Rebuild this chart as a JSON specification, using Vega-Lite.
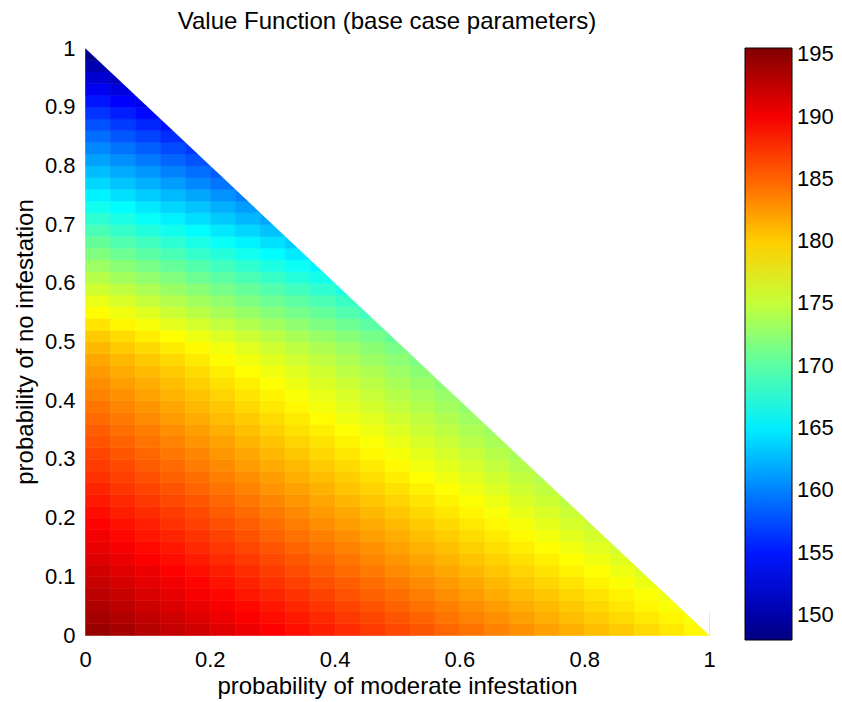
{
  "$schema": "https://vega.github.io/schema/vega-lite/v6.json",
  "width": 624,
  "height": 587,
  "autosize": {"type": "none"},
  "padding": {"left": 85, "top": 48, "right": 133, "bottom": 67},
  "background": "white",
  "config": {
    "font": "Liberation Sans",
    "view": {"stroke": null},
    "axis": {"labelFontSize": 22, "labelColor": "black", "titleFontSize": 24, "titleFontWeight": "normal", "titleColor": "black", "domain": false, "ticks": false, "grid": false, "labelFlush": false},
    "legend": {"labelFontSize": 22, "labelColor": "black"}
  },
  "title": {"text": "Value Function (base case parameters)", "fontSize": 24, "fontWeight": "normal", "color": "black", "frame": "group", "offset": 3, "dx": -10, "anchor": "middle"},
  "layer": [
    {
      "data": {"values": [
{"m":0.02,"n":0.01,"v":194.4},{"m":0.02,"n":0.03,"v":193.8},{"m":0.02,"n":0.05,"v":193.3},{"m":0.02,"n":0.07,"v":192.8},{"m":0.02,"n":0.09,"v":192.2},{"m":0.02,"n":0.11,"v":191.7},{"m":0.02,"n":0.13,"v":191.1},{"m":0.02,"n":0.15,"v":190.6},{"m":0.02,"n":0.17,"v":190.1},{"m":0.02,"n":0.19,"v":189.5},{"m":0.02,"n":0.21,"v":189.0},{"m":0.02,"n":0.23,"v":188.4},{"m":0.02,"n":0.25,"v":187.9},{"m":0.02,"n":0.27,"v":187.3},{"m":0.02,"n":0.29,"v":186.8},{"m":0.02,"n":0.31,"v":186.3},{"m":0.02,"n":0.33,"v":185.7},{"m":0.02,"n":0.35,"v":185.2},{"m":0.02,"n":0.37,"v":184.6},{"m":0.02,"n":0.39,"v":184.1},{"m":0.02,"n":0.41,"v":183.5},{"m":0.02,"n":0.43,"v":183.0},{"m":0.02,"n":0.45,"v":182.4},{"m":0.02,"n":0.47,"v":181.8},{"m":0.02,"n":0.49,"v":181.0},{"m":0.02,"n":0.51,"v":180.1},{"m":0.02,"n":0.53,"v":178.9},{"m":0.02,"n":0.55,"v":177.8},{"m":0.02,"n":0.57,"v":176.7},{"m":0.02,"n":0.59,"v":175.5},{"m":0.02,"n":0.61,"v":174.3},{"m":0.02,"n":0.63,"v":173.1},{"m":0.02,"n":0.65,"v":171.8},{"m":0.02,"n":0.67,"v":170.5},{"m":0.02,"n":0.69,"v":169.2},{"m":0.02,"n":0.71,"v":167.9},{"m":0.02,"n":0.73,"v":166.6},{"m":0.02,"n":0.75,"v":165.3},{"m":0.02,"n":0.77,"v":164.0},{"m":0.02,"n":0.79,"v":162.8},{"m":0.02,"n":0.81,"v":161.5},{"m":0.02,"n":0.83,"v":160.3},{"m":0.02,"n":0.85,"v":159.0},{"m":0.02,"n":0.87,"v":157.7},{"m":0.02,"n":0.89,"v":156.3},{"m":0.02,"n":0.91,"v":154.9},{"m":0.02,"n":0.93,"v":153.4},{"m":0.02,"n":0.95,"v":151.9},{"m":0.02,"n":0.97,"v":150.3},{"m":0.02,"n":0.99,"v":148.6},
{"m":0.06,"n":0.01,"v":193.7},{"m":0.06,"n":0.03,"v":193.2},{"m":0.06,"n":0.05,"v":192.6},{"m":0.06,"n":0.07,"v":192.1},{"m":0.06,"n":0.09,"v":191.5},{"m":0.06,"n":0.11,"v":191.0},{"m":0.06,"n":0.13,"v":190.4},{"m":0.06,"n":0.15,"v":189.9},{"m":0.06,"n":0.17,"v":189.3},{"m":0.06,"n":0.19,"v":188.8},{"m":0.06,"n":0.21,"v":188.2},{"m":0.06,"n":0.23,"v":187.7},{"m":0.06,"n":0.25,"v":187.1},{"m":0.06,"n":0.27,"v":186.6},{"m":0.06,"n":0.29,"v":186.1},{"m":0.06,"n":0.31,"v":185.5},{"m":0.06,"n":0.33,"v":185.0},{"m":0.06,"n":0.35,"v":184.4},{"m":0.06,"n":0.37,"v":183.9},{"m":0.06,"n":0.39,"v":183.3},{"m":0.06,"n":0.41,"v":182.8},{"m":0.06,"n":0.43,"v":182.2},{"m":0.06,"n":0.45,"v":181.6},{"m":0.06,"n":0.47,"v":181.0},{"m":0.06,"n":0.49,"v":180.2},{"m":0.06,"n":0.51,"v":179.3},{"m":0.06,"n":0.53,"v":178.1},{"m":0.06,"n":0.55,"v":177.0},{"m":0.06,"n":0.57,"v":175.9},{"m":0.06,"n":0.59,"v":174.7},{"m":0.06,"n":0.61,"v":173.4},{"m":0.06,"n":0.63,"v":172.2},{"m":0.06,"n":0.65,"v":170.9},{"m":0.06,"n":0.67,"v":169.6},{"m":0.06,"n":0.69,"v":168.3},{"m":0.06,"n":0.71,"v":167.0},{"m":0.06,"n":0.73,"v":165.7},{"m":0.06,"n":0.75,"v":164.4},{"m":0.06,"n":0.77,"v":163.1},{"m":0.06,"n":0.79,"v":161.9},{"m":0.06,"n":0.81,"v":160.6},{"m":0.06,"n":0.83,"v":159.3},{"m":0.06,"n":0.85,"v":158.0},{"m":0.06,"n":0.87,"v":156.7},{"m":0.06,"n":0.89,"v":155.3},{"m":0.06,"n":0.91,"v":153.9},{"m":0.06,"n":0.93,"v":152.4},{"m":0.06,"n":0.95,"v":150.9},
{"m":0.10,"n":0.01,"v":193.0},{"m":0.10,"n":0.03,"v":192.5},{"m":0.10,"n":0.05,"v":191.9},{"m":0.10,"n":0.07,"v":191.4},{"m":0.10,"n":0.09,"v":190.8},{"m":0.10,"n":0.11,"v":190.3},{"m":0.10,"n":0.13,"v":189.7},{"m":0.10,"n":0.15,"v":189.2},{"m":0.10,"n":0.17,"v":188.6},{"m":0.10,"n":0.19,"v":188.1},{"m":0.10,"n":0.21,"v":187.5},{"m":0.10,"n":0.23,"v":187.0},{"m":0.10,"n":0.25,"v":186.4},{"m":0.10,"n":0.27,"v":185.9},{"m":0.10,"n":0.29,"v":185.3},{"m":0.10,"n":0.31,"v":184.8},{"m":0.10,"n":0.33,"v":184.2},{"m":0.10,"n":0.35,"v":183.7},{"m":0.10,"n":0.37,"v":183.1},{"m":0.10,"n":0.39,"v":182.6},{"m":0.10,"n":0.41,"v":182.0},{"m":0.10,"n":0.43,"v":181.5},{"m":0.10,"n":0.45,"v":180.9},{"m":0.10,"n":0.47,"v":180.2},{"m":0.10,"n":0.49,"v":179.4},{"m":0.10,"n":0.51,"v":178.5},{"m":0.10,"n":0.53,"v":177.3},{"m":0.10,"n":0.55,"v":176.2},{"m":0.10,"n":0.57,"v":175.0},{"m":0.10,"n":0.59,"v":173.8},{"m":0.10,"n":0.61,"v":172.6},{"m":0.10,"n":0.63,"v":171.4},{"m":0.10,"n":0.65,"v":170.0},{"m":0.10,"n":0.67,"v":168.8},{"m":0.10,"n":0.69,"v":167.4},{"m":0.10,"n":0.71,"v":166.1},{"m":0.10,"n":0.73,"v":164.8},{"m":0.10,"n":0.75,"v":163.5},{"m":0.10,"n":0.77,"v":162.2},{"m":0.10,"n":0.79,"v":161.0},{"m":0.10,"n":0.81,"v":159.6},{"m":0.10,"n":0.83,"v":158.4},{"m":0.10,"n":0.85,"v":157.0},{"m":0.10,"n":0.87,"v":155.7},{"m":0.10,"n":0.89,"v":154.3},{"m":0.10,"n":0.91,"v":152.9},
{"m":0.14,"n":0.01,"v":192.3},{"m":0.14,"n":0.03,"v":191.8},{"m":0.14,"n":0.05,"v":191.2},{"m":0.14,"n":0.07,"v":190.7},{"m":0.14,"n":0.09,"v":190.1},{"m":0.14,"n":0.11,"v":189.6},{"m":0.14,"n":0.13,"v":189.0},{"m":0.14,"n":0.15,"v":188.5},{"m":0.14,"n":0.17,"v":187.9},{"m":0.14,"n":0.19,"v":187.3},{"m":0.14,"n":0.21,"v":186.8},{"m":0.14,"n":0.23,"v":186.2},{"m":0.14,"n":0.25,"v":185.7},{"m":0.14,"n":0.27,"v":185.1},{"m":0.14,"n":0.29,"v":184.6},{"m":0.14,"n":0.31,"v":184.0},{"m":0.14,"n":0.33,"v":183.5},{"m":0.14,"n":0.35,"v":182.9},{"m":0.14,"n":0.37,"v":182.3},{"m":0.14,"n":0.39,"v":181.8},{"m":0.14,"n":0.41,"v":181.2},{"m":0.14,"n":0.43,"v":180.7},{"m":0.14,"n":0.45,"v":180.1},{"m":0.14,"n":0.47,"v":179.4},{"m":0.14,"n":0.49,"v":178.6},{"m":0.14,"n":0.51,"v":177.7},{"m":0.14,"n":0.53,"v":176.5},{"m":0.14,"n":0.55,"v":175.3},{"m":0.14,"n":0.57,"v":174.2},{"m":0.14,"n":0.59,"v":173.0},{"m":0.14,"n":0.61,"v":171.8},{"m":0.14,"n":0.63,"v":170.5},{"m":0.14,"n":0.65,"v":169.2},{"m":0.14,"n":0.67,"v":167.9},{"m":0.14,"n":0.69,"v":166.6},{"m":0.14,"n":0.71,"v":165.2},{"m":0.14,"n":0.73,"v":163.9},{"m":0.14,"n":0.75,"v":162.6},{"m":0.14,"n":0.77,"v":161.3},{"m":0.14,"n":0.79,"v":160.0},{"m":0.14,"n":0.81,"v":158.7},{"m":0.14,"n":0.83,"v":157.4},{"m":0.14,"n":0.85,"v":156.1},{"m":0.14,"n":0.87,"v":154.7},
{"m":0.18,"n":0.01,"v":191.7},{"m":0.18,"n":0.03,"v":191.1},{"m":0.18,"n":0.05,"v":190.5},{"m":0.18,"n":0.07,"v":190.0},{"m":0.18,"n":0.09,"v":189.4},{"m":0.18,"n":0.11,"v":188.9},{"m":0.18,"n":0.13,"v":188.3},{"m":0.18,"n":0.15,"v":187.7},{"m":0.18,"n":0.17,"v":187.2},{"m":0.18,"n":0.19,"v":186.6},{"m":0.18,"n":0.21,"v":186.1},{"m":0.18,"n":0.23,"v":185.5},{"m":0.18,"n":0.25,"v":184.9},{"m":0.18,"n":0.27,"v":184.4},{"m":0.18,"n":0.29,"v":183.8},{"m":0.18,"n":0.31,"v":183.3},{"m":0.18,"n":0.33,"v":182.7},{"m":0.18,"n":0.35,"v":182.2},{"m":0.18,"n":0.37,"v":181.6},{"m":0.18,"n":0.39,"v":181.0},{"m":0.18,"n":0.41,"v":180.5},{"m":0.18,"n":0.43,"v":179.9},{"m":0.18,"n":0.45,"v":179.3},{"m":0.18,"n":0.47,"v":178.6},{"m":0.18,"n":0.49,"v":177.9},{"m":0.18,"n":0.51,"v":176.9},{"m":0.18,"n":0.53,"v":175.7},{"m":0.18,"n":0.55,"v":174.5},{"m":0.18,"n":0.57,"v":173.4},{"m":0.18,"n":0.59,"v":172.2},{"m":0.18,"n":0.61,"v":170.9},{"m":0.18,"n":0.63,"v":169.7},{"m":0.18,"n":0.65,"v":168.3},{"m":0.18,"n":0.67,"v":167.0},{"m":0.18,"n":0.69,"v":165.7},{"m":0.18,"n":0.71,"v":164.3},{"m":0.18,"n":0.73,"v":163.0},{"m":0.18,"n":0.75,"v":161.7},{"m":0.18,"n":0.77,"v":160.3},{"m":0.18,"n":0.79,"v":159.1},{"m":0.18,"n":0.81,"v":157.8},{"m":0.18,"n":0.83,"v":156.5},
{"m":0.22,"n":0.01,"v":191.0},{"m":0.22,"n":0.03,"v":190.4},{"m":0.22,"n":0.05,"v":189.9},{"m":0.22,"n":0.07,"v":189.3},{"m":0.22,"n":0.09,"v":188.7},{"m":0.22,"n":0.11,"v":188.2},{"m":0.22,"n":0.13,"v":187.6},{"m":0.22,"n":0.15,"v":187.0},{"m":0.22,"n":0.17,"v":186.5},{"m":0.22,"n":0.19,"v":185.9},{"m":0.22,"n":0.21,"v":185.3},{"m":0.22,"n":0.23,"v":184.8},{"m":0.22,"n":0.25,"v":184.2},{"m":0.22,"n":0.27,"v":183.6},{"m":0.22,"n":0.29,"v":183.1},{"m":0.22,"n":0.31,"v":182.5},{"m":0.22,"n":0.33,"v":182.0},{"m":0.22,"n":0.35,"v":181.4},{"m":0.22,"n":0.37,"v":180.8},{"m":0.22,"n":0.39,"v":180.3},{"m":0.22,"n":0.41,"v":179.7},{"m":0.22,"n":0.43,"v":179.1},{"m":0.22,"n":0.45,"v":178.5},{"m":0.22,"n":0.47,"v":177.8},{"m":0.22,"n":0.49,"v":177.1},{"m":0.22,"n":0.51,"v":176.1},{"m":0.22,"n":0.53,"v":174.9},{"m":0.22,"n":0.55,"v":173.7},{"m":0.22,"n":0.57,"v":172.6},{"m":0.22,"n":0.59,"v":171.3},{"m":0.22,"n":0.61,"v":170.1},{"m":0.22,"n":0.63,"v":168.8},{"m":0.22,"n":0.65,"v":167.5},{"m":0.22,"n":0.67,"v":166.2},{"m":0.22,"n":0.69,"v":164.8},{"m":0.22,"n":0.71,"v":163.4},{"m":0.22,"n":0.73,"v":162.1},{"m":0.22,"n":0.75,"v":160.8},{"m":0.22,"n":0.77,"v":159.4},{"m":0.22,"n":0.79,"v":158.2},
{"m":0.26,"n":0.01,"v":190.3},{"m":0.26,"n":0.03,"v":189.7},{"m":0.26,"n":0.05,"v":189.2},{"m":0.26,"n":0.07,"v":188.6},{"m":0.26,"n":0.09,"v":188.0},{"m":0.26,"n":0.11,"v":187.5},{"m":0.26,"n":0.13,"v":186.9},{"m":0.26,"n":0.15,"v":186.3},{"m":0.26,"n":0.17,"v":185.8},{"m":0.26,"n":0.19,"v":185.2},{"m":0.26,"n":0.21,"v":184.6},{"m":0.26,"n":0.23,"v":184.0},{"m":0.26,"n":0.25,"v":183.5},{"m":0.26,"n":0.27,"v":182.9},{"m":0.26,"n":0.29,"v":182.3},{"m":0.26,"n":0.31,"v":181.8},{"m":0.26,"n":0.33,"v":181.2},{"m":0.26,"n":0.35,"v":180.6},{"m":0.26,"n":0.37,"v":180.1},{"m":0.26,"n":0.39,"v":179.5},{"m":0.26,"n":0.41,"v":178.9},{"m":0.26,"n":0.43,"v":178.4},{"m":0.26,"n":0.45,"v":177.7},{"m":0.26,"n":0.47,"v":177.1},{"m":0.26,"n":0.49,"v":176.3},{"m":0.26,"n":0.51,"v":175.3},{"m":0.26,"n":0.53,"v":174.1},{"m":0.26,"n":0.55,"v":172.9},{"m":0.26,"n":0.57,"v":171.7},{"m":0.26,"n":0.59,"v":170.5},{"m":0.26,"n":0.61,"v":169.2},{"m":0.26,"n":0.63,"v":168.0},{"m":0.26,"n":0.65,"v":166.6},{"m":0.26,"n":0.67,"v":165.3},{"m":0.26,"n":0.69,"v":163.9},{"m":0.26,"n":0.71,"v":162.5},{"m":0.26,"n":0.73,"v":161.2},{"m":0.26,"n":0.75,"v":159.9},
{"m":0.30,"n":0.01,"v":189.6},{"m":0.30,"n":0.03,"v":189.0},{"m":0.30,"n":0.05,"v":188.5},{"m":0.30,"n":0.07,"v":187.9},{"m":0.30,"n":0.09,"v":187.3},{"m":0.30,"n":0.11,"v":186.8},{"m":0.30,"n":0.13,"v":186.2},{"m":0.30,"n":0.15,"v":185.6},{"m":0.30,"n":0.17,"v":185.0},{"m":0.30,"n":0.19,"v":184.5},{"m":0.30,"n":0.21,"v":183.9},{"m":0.30,"n":0.23,"v":183.3},{"m":0.30,"n":0.25,"v":182.7},{"m":0.30,"n":0.27,"v":182.2},{"m":0.30,"n":0.29,"v":181.6},{"m":0.30,"n":0.31,"v":181.0},{"m":0.30,"n":0.33,"v":180.5},{"m":0.30,"n":0.35,"v":179.9},{"m":0.30,"n":0.37,"v":179.3},{"m":0.30,"n":0.39,"v":178.7},{"m":0.30,"n":0.41,"v":178.2},{"m":0.30,"n":0.43,"v":177.6},{"m":0.30,"n":0.45,"v":177.0},{"m":0.30,"n":0.47,"v":176.3},{"m":0.30,"n":0.49,"v":175.5},{"m":0.30,"n":0.51,"v":174.5},{"m":0.30,"n":0.53,"v":173.3},{"m":0.30,"n":0.55,"v":172.1},{"m":0.30,"n":0.57,"v":170.9},{"m":0.30,"n":0.59,"v":169.7},{"m":0.30,"n":0.61,"v":168.4},{"m":0.30,"n":0.63,"v":167.1},{"m":0.30,"n":0.65,"v":165.7},{"m":0.30,"n":0.67,"v":164.4},{"m":0.30,"n":0.69,"v":163.0},{"m":0.30,"n":0.71,"v":161.7},
{"m":0.34,"n":0.01,"v":188.9},{"m":0.34,"n":0.03,"v":188.4},{"m":0.34,"n":0.05,"v":187.8},{"m":0.34,"n":0.07,"v":187.2},{"m":0.34,"n":0.09,"v":186.6},{"m":0.34,"n":0.11,"v":186.0},{"m":0.34,"n":0.13,"v":185.5},{"m":0.34,"n":0.15,"v":184.9},{"m":0.34,"n":0.17,"v":184.3},{"m":0.34,"n":0.19,"v":183.7},{"m":0.34,"n":0.21,"v":183.2},{"m":0.34,"n":0.23,"v":182.6},{"m":0.34,"n":0.25,"v":182.0},{"m":0.34,"n":0.27,"v":181.4},{"m":0.34,"n":0.29,"v":180.9},{"m":0.34,"n":0.31,"v":180.3},{"m":0.34,"n":0.33,"v":179.7},{"m":0.34,"n":0.35,"v":179.1},{"m":0.34,"n":0.37,"v":178.6},{"m":0.34,"n":0.39,"v":178.0},{"m":0.34,"n":0.41,"v":177.4},{"m":0.34,"n":0.43,"v":176.8},{"m":0.34,"n":0.45,"v":176.2},{"m":0.34,"n":0.47,"v":175.5},{"m":0.34,"n":0.49,"v":174.7},{"m":0.34,"n":0.51,"v":173.7},{"m":0.34,"n":0.53,"v":172.5},{"m":0.34,"n":0.55,"v":171.3},{"m":0.34,"n":0.57,"v":170.1},{"m":0.34,"n":0.59,"v":168.8},{"m":0.34,"n":0.61,"v":167.5},{"m":0.34,"n":0.63,"v":166.3},{"m":0.34,"n":0.65,"v":164.9},{"m":0.34,"n":0.67,"v":163.5},
{"m":0.38,"n":0.01,"v":188.2},{"m":0.38,"n":0.03,"v":187.7},{"m":0.38,"n":0.05,"v":187.1},{"m":0.38,"n":0.07,"v":186.5},{"m":0.38,"n":0.09,"v":185.9},{"m":0.38,"n":0.11,"v":185.3},{"m":0.38,"n":0.13,"v":184.8},{"m":0.38,"n":0.15,"v":184.2},{"m":0.38,"n":0.17,"v":183.6},{"m":0.38,"n":0.19,"v":183.0},{"m":0.38,"n":0.21,"v":182.4},{"m":0.38,"n":0.23,"v":181.9},{"m":0.38,"n":0.25,"v":181.3},{"m":0.38,"n":0.27,"v":180.7},{"m":0.38,"n":0.29,"v":180.1},{"m":0.38,"n":0.31,"v":179.5},{"m":0.38,"n":0.33,"v":179.0},{"m":0.38,"n":0.35,"v":178.4},{"m":0.38,"n":0.37,"v":177.8},{"m":0.38,"n":0.39,"v":177.2},{"m":0.38,"n":0.41,"v":176.6},{"m":0.38,"n":0.43,"v":176.0},{"m":0.38,"n":0.45,"v":175.4},{"m":0.38,"n":0.47,"v":174.7},{"m":0.38,"n":0.49,"v":173.9},{"m":0.38,"n":0.51,"v":172.9},{"m":0.38,"n":0.53,"v":171.7},{"m":0.38,"n":0.55,"v":170.5},{"m":0.38,"n":0.57,"v":169.3},{"m":0.38,"n":0.59,"v":168.0},{"m":0.38,"n":0.61,"v":166.7},{"m":0.38,"n":0.63,"v":165.4},
{"m":0.42,"n":0.01,"v":187.6},{"m":0.42,"n":0.03,"v":187.0},{"m":0.42,"n":0.05,"v":186.4},{"m":0.42,"n":0.07,"v":185.8},{"m":0.42,"n":0.09,"v":185.2},{"m":0.42,"n":0.11,"v":184.6},{"m":0.42,"n":0.13,"v":184.1},{"m":0.42,"n":0.15,"v":183.5},{"m":0.42,"n":0.17,"v":182.9},{"m":0.42,"n":0.19,"v":182.3},{"m":0.42,"n":0.21,"v":181.7},{"m":0.42,"n":0.23,"v":181.1},{"m":0.42,"n":0.25,"v":180.5},{"m":0.42,"n":0.27,"v":180.0},{"m":0.42,"n":0.29,"v":179.4},{"m":0.42,"n":0.31,"v":178.8},{"m":0.42,"n":0.33,"v":178.2},{"m":0.42,"n":0.35,"v":177.6},{"m":0.42,"n":0.37,"v":177.0},{"m":0.42,"n":0.39,"v":176.4},{"m":0.42,"n":0.41,"v":175.9},{"m":0.42,"n":0.43,"v":175.3},{"m":0.42,"n":0.45,"v":174.6},{"m":0.42,"n":0.47,"v":173.9},{"m":0.42,"n":0.49,"v":173.1},{"m":0.42,"n":0.51,"v":172.1},{"m":0.42,"n":0.53,"v":170.9},{"m":0.42,"n":0.55,"v":169.6},{"m":0.42,"n":0.57,"v":168.5},{"m":0.42,"n":0.59,"v":167.2},
{"m":0.46,"n":0.01,"v":186.9},{"m":0.46,"n":0.03,"v":186.3},{"m":0.46,"n":0.05,"v":185.7},{"m":0.46,"n":0.07,"v":185.1},{"m":0.46,"n":0.09,"v":184.5},{"m":0.46,"n":0.11,"v":183.9},{"m":0.46,"n":0.13,"v":183.3},{"m":0.46,"n":0.15,"v":182.8},{"m":0.46,"n":0.17,"v":182.2},{"m":0.46,"n":0.19,"v":181.6},{"m":0.46,"n":0.21,"v":181.0},{"m":0.46,"n":0.23,"v":180.4},{"m":0.46,"n":0.25,"v":179.8},{"m":0.46,"n":0.27,"v":179.2},{"m":0.46,"n":0.29,"v":178.6},{"m":0.46,"n":0.31,"v":178.0},{"m":0.46,"n":0.33,"v":177.5},{"m":0.46,"n":0.35,"v":176.9},{"m":0.46,"n":0.37,"v":176.3},{"m":0.46,"n":0.39,"v":175.7},{"m":0.46,"n":0.41,"v":175.1},{"m":0.46,"n":0.43,"v":174.5},{"m":0.46,"n":0.45,"v":173.9},{"m":0.46,"n":0.47,"v":173.1},{"m":0.46,"n":0.49,"v":172.3},{"m":0.46,"n":0.51,"v":171.3},{"m":0.46,"n":0.53,"v":170.1},{"m":0.46,"n":0.55,"v":168.8},
{"m":0.50,"n":0.01,"v":186.2},{"m":0.50,"n":0.03,"v":185.6},{"m":0.50,"n":0.05,"v":185.0},{"m":0.50,"n":0.07,"v":184.4},{"m":0.50,"n":0.09,"v":183.8},{"m":0.50,"n":0.11,"v":183.2},{"m":0.50,"n":0.13,"v":182.6},{"m":0.50,"n":0.15,"v":182.0},{"m":0.50,"n":0.17,"v":181.5},{"m":0.50,"n":0.19,"v":180.9},{"m":0.50,"n":0.21,"v":180.3},{"m":0.50,"n":0.23,"v":179.7},{"m":0.50,"n":0.25,"v":179.1},{"m":0.50,"n":0.27,"v":178.5},{"m":0.50,"n":0.29,"v":177.9},{"m":0.50,"n":0.31,"v":177.3},{"m":0.50,"n":0.33,"v":176.7},{"m":0.50,"n":0.35,"v":176.1},{"m":0.50,"n":0.37,"v":175.5},{"m":0.50,"n":0.39,"v":174.9},{"m":0.50,"n":0.41,"v":174.3},{"m":0.50,"n":0.43,"v":173.7},{"m":0.50,"n":0.45,"v":173.1},{"m":0.50,"n":0.47,"v":172.4},{"m":0.50,"n":0.49,"v":171.5},{"m":0.50,"n":0.51,"v":170.5},
{"m":0.54,"n":0.01,"v":185.5},{"m":0.54,"n":0.03,"v":184.9},{"m":0.54,"n":0.05,"v":184.3},{"m":0.54,"n":0.07,"v":183.7},{"m":0.54,"n":0.09,"v":183.1},{"m":0.54,"n":0.11,"v":182.5},{"m":0.54,"n":0.13,"v":181.9},{"m":0.54,"n":0.15,"v":181.3},{"m":0.54,"n":0.17,"v":180.7},{"m":0.54,"n":0.19,"v":180.1},{"m":0.54,"n":0.21,"v":179.5},{"m":0.54,"n":0.23,"v":178.9},{"m":0.54,"n":0.25,"v":178.3},{"m":0.54,"n":0.27,"v":177.7},{"m":0.54,"n":0.29,"v":177.1},{"m":0.54,"n":0.31,"v":176.5},{"m":0.54,"n":0.33,"v":175.9},{"m":0.54,"n":0.35,"v":175.3},{"m":0.54,"n":0.37,"v":174.8},{"m":0.54,"n":0.39,"v":174.2},{"m":0.54,"n":0.41,"v":173.6},{"m":0.54,"n":0.43,"v":173.0},{"m":0.54,"n":0.45,"v":172.3},{"m":0.54,"n":0.47,"v":171.6},
{"m":0.58,"n":0.01,"v":184.8},{"m":0.58,"n":0.03,"v":184.2},{"m":0.58,"n":0.05,"v":183.6},{"m":0.58,"n":0.07,"v":183.0},{"m":0.58,"n":0.09,"v":182.4},{"m":0.58,"n":0.11,"v":181.8},{"m":0.58,"n":0.13,"v":181.2},{"m":0.58,"n":0.15,"v":180.6},{"m":0.58,"n":0.17,"v":180.0},{"m":0.58,"n":0.19,"v":179.4},{"m":0.58,"n":0.21,"v":178.8},{"m":0.58,"n":0.23,"v":178.2},{"m":0.58,"n":0.25,"v":177.6},{"m":0.58,"n":0.27,"v":177.0},{"m":0.58,"n":0.29,"v":176.4},{"m":0.58,"n":0.31,"v":175.8},{"m":0.58,"n":0.33,"v":175.2},{"m":0.58,"n":0.35,"v":174.6},{"m":0.58,"n":0.37,"v":174.0},{"m":0.58,"n":0.39,"v":173.4},{"m":0.58,"n":0.41,"v":172.8},{"m":0.58,"n":0.43,"v":172.2},
{"m":0.62,"n":0.01,"v":184.2},{"m":0.62,"n":0.03,"v":183.5},{"m":0.62,"n":0.05,"v":182.9},{"m":0.62,"n":0.07,"v":182.3},{"m":0.62,"n":0.09,"v":181.7},{"m":0.62,"n":0.11,"v":181.1},{"m":0.62,"n":0.13,"v":180.5},{"m":0.62,"n":0.15,"v":179.9},{"m":0.62,"n":0.17,"v":179.3},{"m":0.62,"n":0.19,"v":178.7},{"m":0.62,"n":0.21,"v":178.1},{"m":0.62,"n":0.23,"v":177.5},{"m":0.62,"n":0.25,"v":176.9},{"m":0.62,"n":0.27,"v":176.3},{"m":0.62,"n":0.29,"v":175.7},{"m":0.62,"n":0.31,"v":175.1},{"m":0.62,"n":0.33,"v":174.4},{"m":0.62,"n":0.35,"v":173.8},{"m":0.62,"n":0.37,"v":173.2},{"m":0.62,"n":0.39,"v":172.6},
{"m":0.66,"n":0.01,"v":183.5},{"m":0.66,"n":0.03,"v":182.9},{"m":0.66,"n":0.05,"v":182.3},{"m":0.66,"n":0.07,"v":181.6},{"m":0.66,"n":0.09,"v":181.0},{"m":0.66,"n":0.11,"v":180.4},{"m":0.66,"n":0.13,"v":179.8},{"m":0.66,"n":0.15,"v":179.2},{"m":0.66,"n":0.17,"v":178.6},{"m":0.66,"n":0.19,"v":178.0},{"m":0.66,"n":0.21,"v":177.4},{"m":0.66,"n":0.23,"v":176.8},{"m":0.66,"n":0.25,"v":176.1},{"m":0.66,"n":0.27,"v":175.5},{"m":0.66,"n":0.29,"v":174.9},{"m":0.66,"n":0.31,"v":174.3},{"m":0.66,"n":0.33,"v":173.7},{"m":0.66,"n":0.35,"v":173.1},
{"m":0.70,"n":0.01,"v":182.8},{"m":0.70,"n":0.03,"v":182.2},{"m":0.70,"n":0.05,"v":181.6},{"m":0.70,"n":0.07,"v":180.9},{"m":0.70,"n":0.09,"v":180.3},{"m":0.70,"n":0.11,"v":179.7},{"m":0.70,"n":0.13,"v":179.1},{"m":0.70,"n":0.15,"v":178.5},{"m":0.70,"n":0.17,"v":177.9},{"m":0.70,"n":0.19,"v":177.3},{"m":0.70,"n":0.21,"v":176.6},{"m":0.70,"n":0.23,"v":176.0},{"m":0.70,"n":0.25,"v":175.4},{"m":0.70,"n":0.27,"v":174.8},{"m":0.70,"n":0.29,"v":174.2},{"m":0.70,"n":0.31,"v":173.6},
{"m":0.74,"n":0.01,"v":182.1},{"m":0.74,"n":0.03,"v":181.5},{"m":0.74,"n":0.05,"v":180.9},{"m":0.74,"n":0.07,"v":180.3},{"m":0.74,"n":0.09,"v":179.6},{"m":0.74,"n":0.11,"v":179.0},{"m":0.74,"n":0.13,"v":178.4},{"m":0.74,"n":0.15,"v":177.8},{"m":0.74,"n":0.17,"v":177.2},{"m":0.74,"n":0.19,"v":176.5},{"m":0.74,"n":0.21,"v":175.9},{"m":0.74,"n":0.23,"v":175.3},{"m":0.74,"n":0.25,"v":174.7},{"m":0.74,"n":0.27,"v":174.1},
{"m":0.78,"n":0.01,"v":181.4},{"m":0.78,"n":0.03,"v":180.8},{"m":0.78,"n":0.05,"v":180.2},{"m":0.78,"n":0.07,"v":179.6},{"m":0.78,"n":0.09,"v":178.9},{"m":0.78,"n":0.11,"v":178.3},{"m":0.78,"n":0.13,"v":177.7},{"m":0.78,"n":0.15,"v":177.1},{"m":0.78,"n":0.17,"v":176.4},{"m":0.78,"n":0.19,"v":175.8},{"m":0.78,"n":0.21,"v":175.2},{"m":0.78,"n":0.23,"v":174.6},
{"m":0.82,"n":0.01,"v":180.7},{"m":0.82,"n":0.03,"v":180.1},{"m":0.82,"n":0.05,"v":179.5},{"m":0.82,"n":0.07,"v":178.9},{"m":0.82,"n":0.09,"v":178.2},{"m":0.82,"n":0.11,"v":177.6},{"m":0.82,"n":0.13,"v":177.0},{"m":0.82,"n":0.15,"v":176.3},{"m":0.82,"n":0.17,"v":175.7},{"m":0.82,"n":0.19,"v":175.1},
{"m":0.86,"n":0.01,"v":180.1},{"m":0.86,"n":0.03,"v":179.4},{"m":0.86,"n":0.05,"v":178.8},{"m":0.86,"n":0.07,"v":178.2},{"m":0.86,"n":0.09,"v":177.5},{"m":0.86,"n":0.11,"v":176.9},{"m":0.86,"n":0.13,"v":176.3},{"m":0.86,"n":0.15,"v":175.6},
{"m":0.90,"n":0.01,"v":179.4},{"m":0.90,"n":0.03,"v":178.7},{"m":0.90,"n":0.05,"v":178.1},{"m":0.90,"n":0.07,"v":177.5},{"m":0.90,"n":0.09,"v":176.8},{"m":0.90,"n":0.11,"v":176.2},
{"m":0.94,"n":0.01,"v":178.7},{"m":0.94,"n":0.03,"v":178.1},{"m":0.94,"n":0.05,"v":177.4},{"m":0.94,"n":0.07,"v":176.8},
{"m":0.98,"n":0.01,"v":178.0},{"m":0.98,"n":0.03,"v":177.4}
      ]},
      "mark": {"type": "rect", "stroke": {"expr": "scale('color', datum.v)"}, "strokeWidth": 0.6},
      "encoding": {
        "x": {"field": "m", "type": "quantitative", "bin": {"extent": [0, 1], "step": 0.04}, "scale": {"domain": [0, 1], "nice": false, "zero": false},
              "axis": {"values": [0, 0.2, 0.4, 0.6, 0.8, 1], "format": "~g", "labelPadding": 14, "titlePadding": 4, "title": "probability of moderate infestation"}},
        "y": {"field": "n", "type": "quantitative", "bin": {"extent": [0, 1], "step": 0.02}, "scale": {"domain": [0, 1], "nice": false, "zero": false},
              "axis": {"values": [0, 0.1, 0.2, 0.3, 0.4, 0.5, 0.6, 0.7, 0.8, 0.9, 1], "format": "~g", "labelPadding": 10, "titlePadding": 7, "title": "probability of no infestation"}},
        "color": {"field": "v", "type": "quantitative",
                  "scale": {"type": "linear", "domain": [148.0, 153.94, 165.81, 177.69, 189.56, 195.5], "range": ["#000080", "#0000ff", "#00ffff", "#ffff00", "#ff0000", "#800000"], "interpolate": "rgb", "clamp": true},
                  "legend": {"title": null, "orient": "right", "offset": 36, "padding": 0, "direction": "vertical", "type": "gradient", "gradientLength": 592, "gradientThickness": 47, "gradientStrokeColor": "black", "gradientStrokeWidth": 1, "values": [150, 155, 160, 165, 170, 175, 180, 185, 190, 195], "labelOffset": 5, "labelOverlap": false, "format": "d"}}
      }
    },
    {
      "data": {"values": [{"m": 0, "n": 1}, {"m": 1, "n": 0}]},
      "mark": {"type": "area", "color": "white", "orient": "vertical"},
      "encoding": {
        "x": {"field": "m", "type": "quantitative"},
        "y": {"field": "n", "type": "quantitative"},
        "y2": {"datum": 1.001}
      }
    }
  ]
}
